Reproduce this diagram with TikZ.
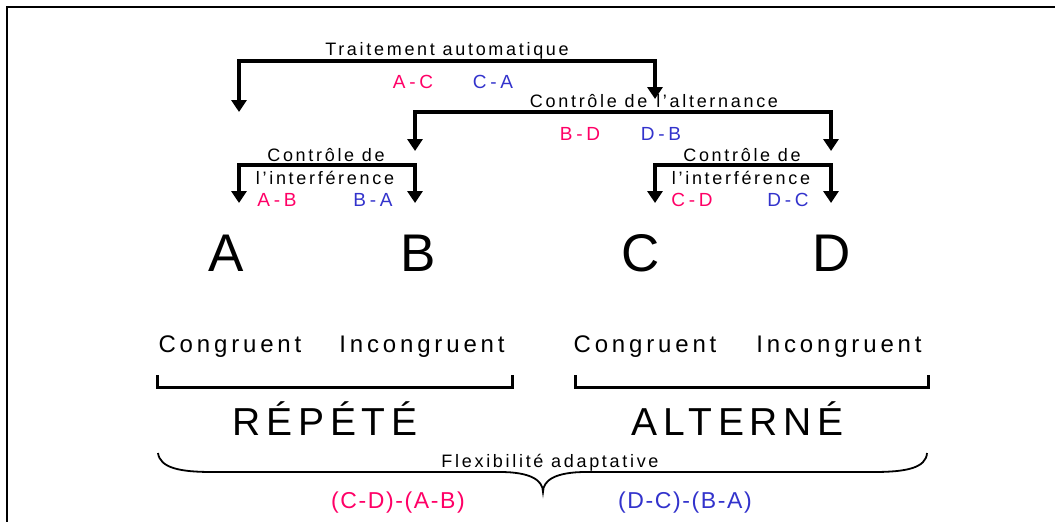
\documentclass[tikz,border=0pt]{standalone}
\usepackage{fontspec}
\setmainfont{Liberation Sans}
\usetikzlibrary{arrows.meta}
\definecolor{PairPink}{RGB}{255,0,102}
\definecolor{PairBlue}{RGB}{51,51,204}
\begin{document}
\begin{tikzpicture}[x=1pt,y=-1pt,>={Triangle[width=15pt,length=12pt]},
  fork/.style={line width=3.5pt,<->},
  bracket/.style={line width=3pt},
  lab/.style={anchor=base,inner sep=0pt,font=\fontsize{18}{20}\selectfont\addfontfeature{LetterSpace=15}},
  pair/.style={anchor=base,inner sep=0pt,font=\fontsize{19}{21}\selectfont\addfontfeature{LetterSpace=20}},
  big/.style={anchor=base,inner sep=0pt,font=\fontsize{53}{60}\selectfont},
  cond/.style={anchor=base,inner sep=0pt,font=\fontsize{24}{28}\selectfont\addfontfeature{LetterSpace=16}},
  block/.style={anchor=base,inner sep=0pt,font=\fontsize{39}{44}\selectfont\addfontfeature{LetterSpace=15}},
  diff/.style={anchor=base,inner sep=0pt,font=\fontsize{23}{26}\selectfont\addfontfeature{LetterSpace=7}}]
\useasboundingbox (0,0) rectangle (1055,522);
\draw[line width=2.5pt] (7,522)--(7,7)--(1055,7);
\node[lab] (ta) at (447,55){Traitement automatique};
\node[pair,PairPink] (ac) at (413,88){A-C};
\node[pair,PairBlue] (ca) at (493,88){C-A};
\node[lab] (cal) at (654,107){Contrôle de\enspace l’alternance};
\node[pair,PairPink] (bd) at (580,140){B-D};
\node[pair,PairBlue] (db) at (661,140){D-B};
\node[lab] (ci1) at (326,161){Contrôle de};
\node[lab] (ci1b) at (325,184){l’interférence};
\node[pair,PairPink] (ab) at (277,206){A-B};
\node[pair,PairBlue] (ba) at (373,206){B-A};
\node[lab] (ci2) at (742,161){Contrôle de};
\node[lab] (ci2b) at (741,184){l’interférence};
\node[pair,PairPink] (cd) at (692,206){C-D};
\node[pair,PairBlue] (dc) at (788,206){D-C};
\node[big] (A) at (226,271){A};
\node[big] (B) at (418,271){B};
\node[big] (C) at (641,271){C};
\node[big] (D) at (832,271){D};
\node[cond] (c1) at (230,352){Congruent};
\node[cond] (i1) at (422,352){Incongruent};
\node[cond] (c2) at (645,352){Congruent};
\node[cond] (i2) at (839,352){Incongruent};
\node[block] (rep) at (325,435){RÉPÉTÉ};
\node[block] (alt) at (738,435){ALTERNÉ};
\node[lab] (flex) at (550,467){Flexibilité adaptative};
\node[diff,PairPink] (d1) at (398,508){(C-D)-(A-B)};
\node[diff,PairBlue] (d2) at (685,508){(D-C)-(B-A)};
\coordinate (l1a) at (239,112);\coordinate (l1m) at (447,61);\coordinate (l1b) at (655,99);
\coordinate (l2a) at (415,151);\coordinate (l2m) at (623,112);\coordinate (l2b) at (831,151);
\coordinate (l3a) at (239,203);\coordinate (l3m) at (327,165);\coordinate (l3b) at (415,203);
\coordinate (l4a) at (655,203);\coordinate (l4m) at (743,165);\coordinate (l4b) at (831,203);
\draw[fork] (l1a) |- (l1m) -| (l1b);
\draw[fork] (l2a) |- (l2m) -| (l2b);
\draw[fork] (l3a) |- (l3m) -| (l3b);
\draw[fork] (l4a) |- (l4m) -| (l4b);
\coordinate (g1a) at (157,375);\coordinate (g1b) at (512,375);
\coordinate (g2a) at (575,375);\coordinate (g2b) at (928,375);
\draw[bracket] (g1a) -- ++(0,12) -| (g1b);
\draw[bracket] (g2a) -- ++(0,12) -| (g2b);
\draw[line width=1.8pt] (158,453) .. controls (160,468) and (180,472) .. (212,472) -- (500,472)
  .. controls (530,472) and (543,480) .. (543,492) .. controls (543,480) and (556,472) .. (586,472)
  -- (874,472) .. controls (906,472) and (926,468) .. (927,453);
\end{tikzpicture}
\end{document}
